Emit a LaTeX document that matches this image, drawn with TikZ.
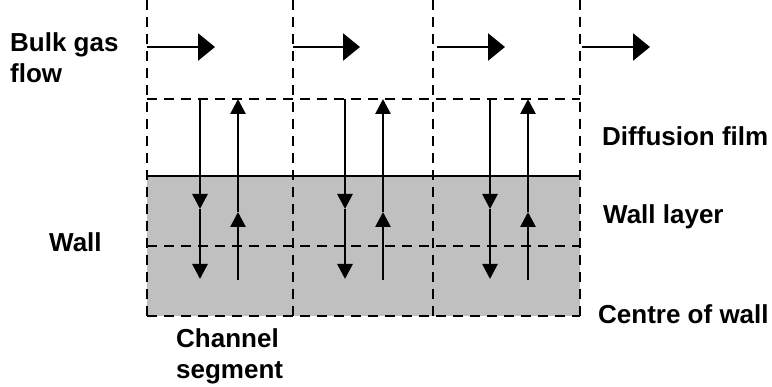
\documentclass[tikz,border=0pt]{standalone}
\usepackage{fontspec}
\setmainfont{Liberation Sans}
\usetikzlibrary{arrows.meta}
\definecolor{wallgray}{HTML}{C0C0C0}
\begin{document}
\begin{tikzpicture}[x=1pt,y=-1pt,
  lbl/.style={font=\fontsize{26}{31}\selectfont\bfseries, inner sep=0pt, anchor=north west, align=left},
  dashline/.style={line width=2.6pt, dash pattern=on 10pt off 7pt},
  solidline/.style={line width=2.6pt},
  flowarrow/.style={line width=2.7pt, -{Triangle[length=17pt,width=27pt]}},
  diffarrow/.style={line width=2.7pt, -{Triangle[length=15pt,width=15pt]}},
  ]
\useasboundingbox (0,0) rectangle (772,387);
\fill[white] (0,0) rectangle (772,387);
% wall
\fill[wallgray] (147,176) rectangle (580,316);
% grid lines
\foreach \x/\n in {147/a,293/b,433/c,580/d}{
  \coordinate (top\n) at (\x,0);
  \coordinate (bot\n) at (\x,316);
  \draw[dashline] (top\n) -- (bot\n);
}
\coordinate (filmL) at (147,99);   \coordinate (filmR) at (580,99);
\coordinate (surfL) at (147,176);  \coordinate (surfR) at (580,176);
\coordinate (midL) at (147,246);   \coordinate (midR) at (580,246);
\draw[dashline] (filmL) -- (filmR);
\draw[solidline] (surfL) -- (surfR);
\draw[dashline] (midL) -- (midR);
\draw[dashline] (bota) -- (botd);
% bulk flow arrows
\foreach \s/\e/\n in {147/215/1,293/360/2,437/505/3,582/650/4}{
  \coordinate (fs\n) at (\s,47);
  \coordinate (fe\n) at (\e,47);
  \draw[flowarrow] (fs\n) -- (fe\n);
}
% diffusion arrows
\foreach \d/\u/\n in {200/238/1,345/383/2,490/528/3}{
  \coordinate (dtop\n) at (\d,99);
  \coordinate (dmid\n) at (\d,209);
  \coordinate (dbot\n) at (\d,279);
  \coordinate (ubot\n) at (\u,280);
  \coordinate (umid\n) at (\u,212);
  \coordinate (utop\n) at (\u,99);
  \draw[diffarrow] (dtop\n) -- (dmid\n);
  \draw[diffarrow] (dmid\n) -- (dbot\n);
  \draw[diffarrow] (ubot\n) -- (umid\n);
  \draw[diffarrow] (umid\n) -- (utop\n);
}
% labels
\node[lbl] (bulk) at (10,32) {Bulk gas\\flow};
\node[lbl] (film) at (602,126) {Diffusion film};
\node[lbl] (layer) at (603,204) {Wall layer};
\node[lbl] (centre) at (598,304) {Centre of wall};
\node[lbl] (wall) at (49,232) {Wall};
\node[lbl] (channel) at (176,328) {Channel\\segment};
\end{tikzpicture}
\end{document}
